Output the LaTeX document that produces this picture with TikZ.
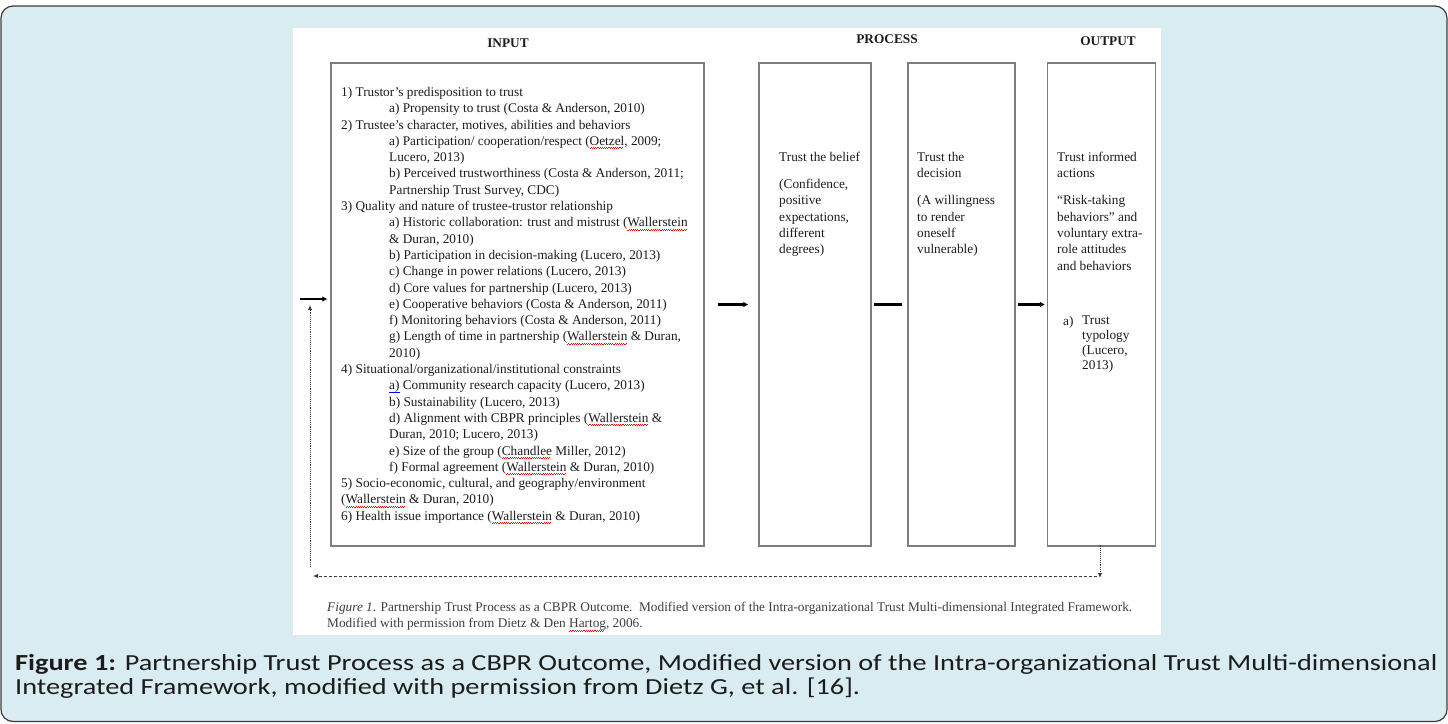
\documentclass[tikz,border=0pt]{standalone}
\usepackage{fontspec}
\setmainfont{Liberation Serif}
\newfontfamily\capfont[FakeStretch=1.23]{Carlito}
\usetikzlibrary{arrows.meta}

\definecolor{panelblue}{RGB}{216,236,241}
\definecolor{framegray}{RGB}{60,60,60}
\definecolor{boxgray}{RGB}{125,125,125}
\definecolor{inktext}{RGB}{28,28,28}

\newsavebox\spellbox
\newcommand\itemind{\hspace*{48pt}}
\newcommand\spellmark[1]{\sbox\spellbox{#1}%
  \rlap{\color{red}\hbox to\wd\spellbox{\leaders\hbox{\rule[-3.4pt]{1.1pt}{0.6pt}\rule[-2.6pt]{1.1pt}{0.6pt}}\hfill}}\usebox\spellbox}
\newcommand\grammark[1]{\sbox\spellbox{#1}%
  \rlap{\color{blue}\rule[-2.8pt]{\wd\spellbox}{0.6pt}}\usebox\spellbox}

\begin{document}
\begin{tikzpicture}[
  x=1pt, y=-1pt,
  font=\fontsize{13.3}{16.3}\selectfont,
  panel/.style={draw=boxgray, line width=1.1pt, inner sep=0pt, minimum height=483pt},
  txt/.style={anchor=north west, inner sep=0pt, align=left, text=inktext},
  lbl/.style={font=\fontsize{13.3}{16}\selectfont\bfseries, text=inktext},
  flow/.style={line width=2.4pt, -{Latex[length=5pt,width=5.5pt]}},
  bar/.style={line width=2.4pt},
  fb/.style={framegray, line width=0.9pt, -{Latex[length=5pt,width=4.5pt]}}
]
\useasboundingbox (0,0) rectangle (1448,723);
\draw[framegray, fill=panelblue, line width=1.2pt, rounded corners=12pt]
  (1,6) rectangle (1447,721.5);
\fill[white] (293,28) rectangle (1161,635);

% headings
\node[lbl] (inlbl) at (508,43) {INPUT};
\node[lbl] (proclbl) at (887,39) {PROCESS};
\node[lbl] (outlbl) at (1108,41) {OUTPUT};

% boxes
\node[panel, minimum width=373pt] (input) at (517.5,304.5) {};
\node[panel, minimum width=112pt] (belief) at (815,304.5) {};
\node[panel, minimum width=107pt] (decision) at (961.5,304.5) {};
\node[panel, minimum width=108pt] (output) at (1101.5,304.5) {};

\node[txt] (inputtext) at (341,87) {1) Trustor’s predisposition to trust\\
\itemind a) Propensity to trust (Costa \& Anderson, 2010)\\
2) Trustee’s character, motives, abilities and behaviors\\
\itemind a) Participation/ cooperation/respect (\spellmark{Oetzel}, 2009;\\
\itemind Lucero, 2013)\\
\itemind b) Perceived trustworthiness (Costa \& Anderson, 2011;\\
\itemind Partnership Trust Survey, CDC)\\
3) Quality and nature of trustee-trustor relationship\\
\itemind a) Historic collaboration: trust and mistrust (\spellmark{Wallerstein}\\
\itemind \& Duran, 2010)\\
\itemind b) Participation in decision-making (Lucero, 2013)\\
\itemind c) Change in power relations (Lucero, 2013)\\
\itemind d) Core values for partnership (Lucero, 2013)\\
\itemind e) Cooperative behaviors (Costa \& Anderson, 2011)\\
\itemind f) Monitoring behaviors (Costa \& Anderson, 2011)\\
\itemind g) Length of time in partnership (\spellmark{Wallerstein} \& Duran,\\
\itemind 2010)\\
4) Situational/organizational/institutional constraints\\
\itemind \grammark{a)} Community research capacity (Lucero, 2013)\\
\itemind b) Sustainability (Lucero, 2013)\\
\itemind d) Alignment with CBPR principles (\spellmark{Wallerstein} \&\\
\itemind Duran, 2010; Lucero, 2013)\\
\itemind e) Size of the group (\spellmark{Chandlee} Miller, 2012)\\
\itemind f) Formal agreement (\spellmark{Wallerstein} \& Duran, 2010)\\
5) Socio-economic, cultural, and geography/environment\\
(\spellmark{Wallerstein} \& Duran, 2010)\\
6) Health issue importance (\spellmark{Wallerstein} \& Duran, 2010)};

\node[txt] (belieftext) at (779,152) {Trust the belief\\[10.7pt]
(Confidence,\\ positive\\ expectations,\\ different\\ degrees)};
\node[txt] (decisiontext) at (917,152) {Trust the\\ decision\\[10.7pt]
(A willingness\\ to render\\ oneself\\ vulnerable)};
\node[txt] (outputtext) at (1057,152) {Trust informed\\ actions\\[10.7pt]
“Risk-taking\\ behaviors” and\\ voluntary extra-\\ role attitudes\\ and behaviors};
\node[txt] (itemmark) at (1063,316) {a)};
\node[txt, font=\fontsize{13.3}{14.8}\selectfont] (itemtext) at (1082,316)
  {Trust\\ typology\\ (Lucero,\\ 2013)};

% flow arrows
\coordinate (feedin) at (300,299);
\draw[flow] (feedin) -- ([xshift=-3pt]feedin -| input.west);
\draw[flow, shorten <=13pt, shorten >=10pt] (input.east) -- (belief.west);
\draw[bar, shorten <=2pt, shorten >=5pt] (belief.east) -- (decision.west);
\draw[flow, shorten <=2pt, shorten >=2pt] (decision.east) -- (output.west);

% feedback loop
\coordinate (fbdown) at (1100,578);
\coordinate (fbright) at (1097,576);
\coordinate (fbleft) at (313,576);
\coordinate (fblow) at (310,567);
\coordinate (fbup) at (310,305);
\draw[fb, densely dotted] ([xshift=-1.5pt, yshift=2pt]output.south) -- (fbdown);
\draw[fb, dashed, dash pattern=on 3pt off 2pt] (fbright) -- (fbleft);
\draw[fb, densely dotted] (fblow) -- (fbup);

% captions
\node[txt, text=inktext!85] (figtext) at (327,602)
  {\textit{Figure 1}. Partnership Trust Process as a CBPR Outcome.\ \ Modified version of the Intra-organizational Trust Multi-dimensional Integrated Framework.\\
Modified with permission from Dietz \& Den \spellmark{Hartog}, 2006.};
\node[txt, font=\capfont\fontsize{23}{24}\selectfont] (figcap) at (15,654)
  {\textbf{Figure 1:} Partnership Trust Process as a CBPR Outcome, Modified version of the Intra-organizational Trust Multi-dimensional\\
Integrated Framework, modified with permission from Dietz G, et al. [16].};
\end{tikzpicture}
\end{document}
